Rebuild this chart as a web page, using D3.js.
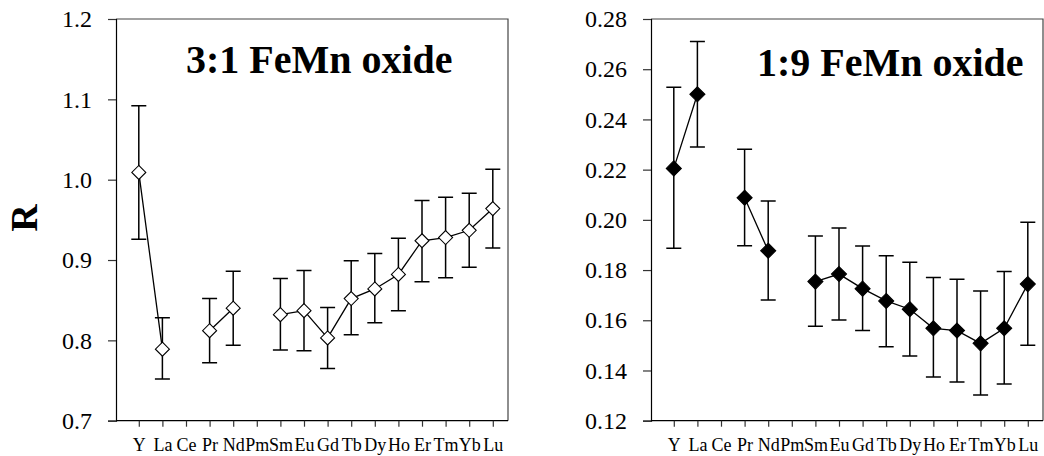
<!DOCTYPE html>
<html>
<head>
<meta charset="utf-8">
<script src="https://cdn.jsdelivr.net/npm/d3@7/dist/d3.min.js"></script>
<style>
  html, body { margin: 0; padding: 0; background: #fff; }
  svg { display: block; }
</style>
</head>
<body>
<svg id="chart" width="1044" height="456"></svg>
<script>
const SERIF = "'Liberation Serif', 'Times New Roman', Times, serif";

// Rare earth elements (plus Y) along the x axis
const elements = ["Y", "La", "Ce", "Pr", "Nd", "Pm", "Sm", "Eu", "Gd", "Tb", "Dy", "Ho", "Er", "Tm", "Yb", "Lu"];

// 3:1 FeMn oxide: R value with lower / upper error limits (null = not measured)
const r31 =    [1.009, 0.789, null, 0.812, 0.840, null, 0.832, 0.837, 0.803, 0.852, 0.864, 0.882, 0.924, 0.928, 0.937, 0.964];
const r31Lo =  [0.926, 0.752, null, 0.772, 0.794, null, 0.788, 0.787, 0.765, 0.807, 0.822, 0.837, 0.873, 0.878, 0.891, 0.915];
const r31Hi =  [1.092, 0.828, null, 0.852, 0.886, null, 0.877, 0.887, 0.841, 0.899, 0.908, 0.927, 0.974, 0.978, 0.983, 1.013];

// 1:9 FeMn oxide
const r19 =    [0.2205, 0.250, null, 0.2088, 0.1877, null, 0.1754, 0.1784, 0.1726, 0.1677, 0.1644, 0.1568, 0.1559, 0.1508, 0.1568, 0.1744];
const r19Lo =  [0.1887, 0.229, null, 0.1897, 0.1681, null, 0.1576, 0.1601, 0.1559, 0.1495, 0.1458, 0.1374, 0.1354, 0.1302, 0.1346, 0.1501];
const r19Hi =  [0.2528, 0.271, null, 0.2281, 0.2075, null, 0.1936, 0.1968, 0.1896, 0.1857, 0.1831, 0.1770, 0.1763, 0.1717, 0.1794, 0.1990];

const ticks31 = [0.7, 0.8, 0.9, 1.0, 1.1, 1.2];
const ticks19 = [0.12, 0.14, 0.16, 0.18, 0.20, 0.22, 0.24, 0.26, 0.28];

const svg = d3.select("#chart");

function panel(opts) {
  const { left, top, width, height, domain, tickVals, fmt, values, lo, hi, filled, title, titleX, titleY } = opts;
  const g = svg.append("g");

  const x = d3.scalePoint().domain(elements).range([left, left + width]).padding(0.805).align(0.6);
  const y = d3.scaleLinear().domain(domain).range([top + height, top]);

  // frame (top and right)
  g.append("path")
    .attr("d", `M${left},${top}H${left + width}V${top + height}`)
    .attr("fill", "none").attr("stroke", "#444").attr("stroke-width", 1.2);

  // y axis
  const ya = g.append("g").attr("transform", `translate(${left},0)`)
    .call(d3.axisLeft(y).tickValues(tickVals).tickFormat(fmt).tickSize(8).tickPadding(16));
  ya.attr("font-family", SERIF).attr("font-size", 24);
  ya.select(".domain").attr("stroke", "#000").attr("stroke-width", 1.2);
  ya.selectAll(".tick line").attr("stroke", "#333").attr("stroke-width", 1.2);
  ya.selectAll(".tick text").style("font-family", SERIF).style("font-size", "24px").attr("fill", "#000");

  // x axis
  const xa = g.append("g").attr("transform", `translate(0,${top + height})`)
    .call(d3.axisBottom(x).tickSize(6).tickPadding(12).tickSizeOuter(0));
  xa.attr("font-family", SERIF).attr("font-size", 18);
  xa.select(".domain").attr("d", `M${left},0H${left + width}`).attr("stroke", "#000").attr("stroke-width", 1.2);
  xa.selectAll(".tick line").attr("stroke", "#333").attr("stroke-width", 1.2);
  xa.selectAll(".tick text").style("font-family", SERIF).style("font-size", "18px").attr("fill", "#000");

  const pts = elements.map((e, i) => ({ e, v: values[i], lo: lo[i], hi: hi[i] }));

  // connecting line, broken where data are missing
  const line = d3.line().defined(d => d.v != null).x(d => x(d.e)).y(d => y(d.v));
  g.append("path").datum(pts).attr("d", line)
    .attr("fill", "none").attr("stroke", "#000").attr("stroke-width", 1.3);

  const valid = pts.filter(d => d.v != null);
  const cap = 7.5;
  const eb = g.append("g").attr("stroke", "#000").attr("stroke-width", 1.5).attr("fill", "none");
  eb.selectAll("path").data(valid).join("path")
    .attr("d", d => {
      const cx = x(d.e), y1 = y(d.hi), y2 = y(d.lo);
      return `M${cx},${y1}V${y2}M${cx - cap},${y1}H${cx + cap}M${cx - cap},${y2}H${cx + cap}`;
    });

  // diamond markers
  const r = filled ? 7.5 : 7;
  g.append("g").selectAll("path").data(valid).join("path")
    .attr("d", d => {
      const cx = x(d.e), cy = y(d.v);
      return `M${cx},${cy - r}L${cx + r},${cy}L${cx},${cy + r}L${cx - r},${cy}Z`;
    })
    .attr("fill", filled ? "#000" : "#fff")
    .attr("stroke", "#000").attr("stroke-width", 1.1);

  g.append("text").attr("x", titleX).attr("y", titleY)
    .style("font-family", SERIF)
    .style("font-size", "40px").style("font-weight", "bold").text(title);
}

panel({
  left: 116, top: 19, width: 392, height: 401.7,
  domain: [0.7, 1.2], tickVals: ticks31, fmt: d3.format(".1f"),
  values: r31, lo: r31Lo, hi: r31Hi, filled: false,
  title: "3:1 FeMn oxide", titleX: 186, titleY: 73
});

panel({
  left: 651, top: 19, width: 392, height: 401.7,
  domain: [0.12, 0.28], tickVals: ticks19, fmt: d3.format(".2f"),
  values: r19, lo: r19Lo, hi: r19Hi, filled: true,
  title: "1:9 FeMn oxide", titleX: 757, titleY: 76
});

// y axis title
svg.append("text")
  .attr("transform", "translate(37,218) rotate(-90)")
  .attr("text-anchor", "middle")
  .style("font-family", SERIF)
  .style("font-size", "38px").style("font-weight", "bold")
  .text("R");
</script>
</body>
</html>
